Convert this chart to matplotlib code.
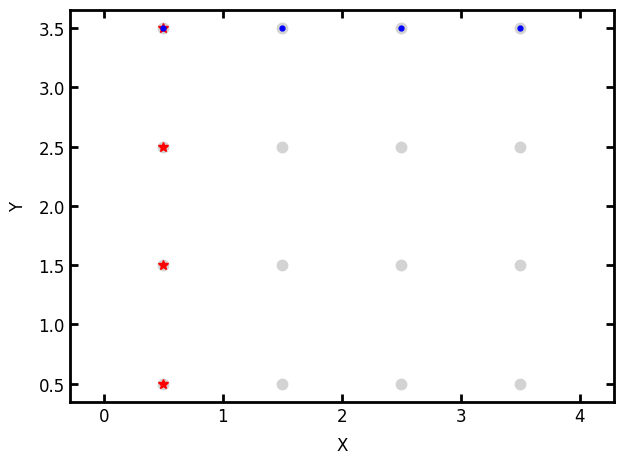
import numpy as np
import matplotlib
matplotlib.use("Agg")
import matplotlib.pyplot as plt

# grid of cell centres
grid_x = [0.5, 1.5, 2.5, 3.5]
grid_y = [0.5, 1.5, 2.5, 3.5]

# highlighted points
star_x = [0.5, 0.5, 0.5, 0.5]
star_y = [0.5, 1.5, 2.5, 3.5]
dot_x = [0.5, 1.5, 2.5, 3.5]
dot_y = [3.5, 3.5, 3.5, 3.5]

fig = plt.figure(figsize=(6.23, 4.64), dpi=100)
ax = fig.add_axes([0.112, 0.132, 0.8736, 0.8444])

gx, gy = np.meshgrid(grid_x, grid_y)
ax.plot(gx.ravel(), gy.ravel(), 'o', color='lightgray', markersize=7.5, linestyle='none')
ax.plot(star_x, star_y, '*', color='red', markersize=7, linestyle='none')
ax.plot(dot_x, dot_y, 'o', color='blue', markersize=3.5, linestyle='none')

ax.set_xlim(-0.286, 4.286)
ax.set_ylim(0.348, 3.652)
ax.set_xticks([0, 1, 2, 3, 4])
ax.set_yticks([0.5, 1.0, 1.5, 2.0, 2.5, 3.0, 3.5])
ax.set_xlabel("X", fontsize=12, labelpad=8)
ax.set_ylabel("Y", fontsize=12, labelpad=8)

ax.tick_params(direction='in', top=True, right=True, width=2, length=6, labelsize=12)
for s in ax.spines.values():
	s.set_linewidth(2)

plt.savefig("out.png", dpi=100)
